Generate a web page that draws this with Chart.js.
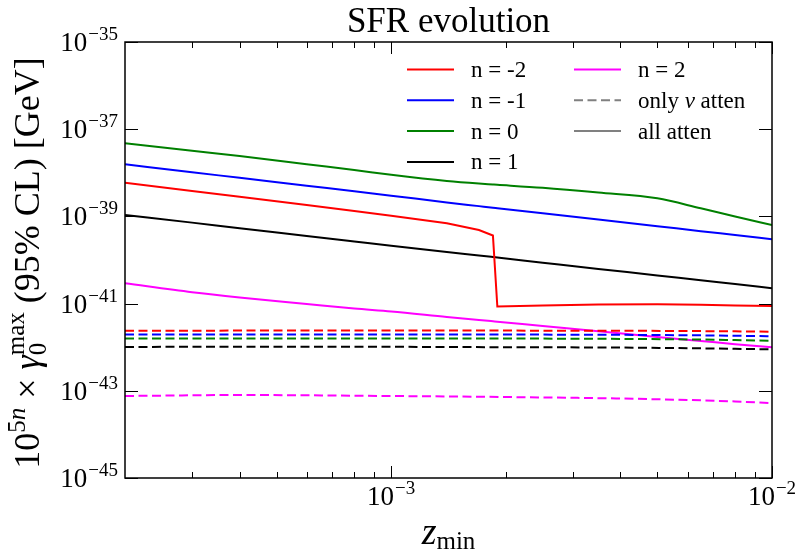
<!DOCTYPE html>
<html>
<head>
<meta charset="utf-8">
<script src="https://cdn.jsdelivr.net/npm/chart.js@4.4.1/dist/chart.umd.min.js"></script>
<style>
  html, body { margin: 0; padding: 0; background: #fff; }
  canvas { display: block; }
</style>
</head>
<body>
<canvas id="chart" width="801" height="552"></canvas>
<script>
// z_min grid for the "all atten" (solid) curves
const zAll = [2e-4, 3e-4, 4e-4, 6e-4, 8e-4, 1e-3, 1.4e-3, 1.7e-3, 1.85e-3, 1.9e-3, 2.5e-3, 3.5e-3, 5e-3, 6.5e-3, 8e-3, 1e-2];
const redAll     = [5.93e-39, 3.83e-39, 2.82e-39, 1.82e-39, 1.33e-39, 1.04e-39, 6.98e-40, 4.88e-40, 3.65e-40, 8.57e-42, 9.0e-42, 9.5e-42, 9.6e-42, 9.4e-42, 9.0e-42, 8.8e-42];
const blueAll    = [1.57e-38, 1.03e-38, 7.68e-39, 5.06e-39, 3.77e-39, 2.99e-39, 2.09e-39, 1.72e-39, 1.58e-39, 1.54e-39, 1.18e-39, 8.49e-40, 5.96e-40, 4.58e-40, 3.74e-40, 3.0e-40];
const greenAll   = [4.75e-38, 3.20e-38, 2.43e-38, 1.57e-38, 1.16e-38, 9.0e-39, 6.48e-39, 5.65e-39, 5.39e-39, 5.31e-39, 4.53e-39, 3.52e-39, 2.60e-39, 1.53e-39, 9.95e-40, 6.35e-40];
const blackAll   = [1.08e-39, 7.2e-40, 5.36e-40, 3.57e-40, 2.67e-40, 2.13e-40, 1.53e-40, 1.27e-40, 1.17e-40, 1.14e-40, 8.7e-41, 6.25e-41, 4.43e-41, 3.42e-41, 2.80e-41, 2.25e-41];
const magentaAll = [2.92e-41, 1.82e-41, 1.38e-41, 9.8e-42, 7.7e-42, 6.6e-42, 4.93e-42, 4.2e-42, 3.93e-42, 3.85e-42, 3.06e-42, 2.32e-42, 1.71e-42, 1.39e-42, 1.17e-42, 9.95e-43];

// z_min grid for the "only nu atten" (dashed) curves
const zNu = [2e-4, 4e-4, 1e-3, 2e-3, 4e-3, 6e-3, 8e-3, 1e-2];
const redNu     = [2.39e-42, 2.40e-42, 2.40e-42, 2.40e-42, 2.38e-42, 2.35e-42, 2.31e-42, 2.27e-42];
const blueNu    = [1.95e-42, 1.96e-42, 1.96e-42, 1.95e-42, 1.92e-42, 1.88e-42, 1.83e-42, 1.78e-42];
const greenNu   = [1.58e-42, 1.59e-42, 1.59e-42, 1.58e-42, 1.55e-42, 1.51e-42, 1.46e-42, 1.41e-42];
const blackNu   = [1.01e-42, 1.03e-42, 1.02e-42, 1.0e-42, 9.8e-43, 9.5e-43, 9.2e-43, 8.9e-43];
const magentaNu = [7.6e-44, 8.0e-44, 7.6e-44, 7.2e-44, 6.65e-44, 6.15e-44, 5.7e-44, 5.2e-44];

const seriesLabels = ['n = -2', 'n = -1', 'n = 0', 'n = 1', 'n = 2'];
const seriesColors = ['#ff0000', '#0000ff', '#008000', '#000000', '#ff00ff'];
const allSeries = [redAll, blueAll, greenAll, blackAll, magentaAll];
const nuSeries = [redNu, blueNu, greenNu, blackNu, magentaNu];

// axis ticks
const yTickExps = [-35, -37, -39, -41, -43, -45];
const xTickExps = [-3, -2];
const xMinorTicks = [3e-4, 4e-4, 5e-4, 6e-4, 7e-4, 8e-4, 9e-4, 2e-3, 3e-3, 4e-3, 5e-3, 6e-3, 7e-3, 8e-3, 9e-3];

const titleText = 'SFR evolution';
const serif = '"Liberation Serif", "Times New Roman", serif';

const toPoints = (xs, ys) => xs.map((x, i) => ({ x: x, y: ys[i] }));

const datasets = [];
allSeries.forEach((vals, i) => {
  datasets.push({
    label: seriesLabels[i] + ' (only nu)',
    data: toPoints(zNu, nuSeries[i]),
    borderColor: seriesColors[i],
    borderWidth: 2,
    borderDash: [9, 4.5],
    pointRadius: 0,
    cubicInterpolationMode: 'monotone',
    fill: false
  });
  datasets.push({
    label: seriesLabels[i],
    data: toPoints(zAll, vals),
    borderColor: seriesColors[i],
    borderWidth: 2,
    pointRadius: 0,
    // the n = -2 curve has a sharp step, keep it straight-segmented
    cubicInterpolationMode: i === 0 ? 'default' : 'monotone',
    tension: 0,
    fill: false
  });
});

function drawPower(ctx, exp, x, baseY, align) {
  const base = '10';
  const sup = '\u2212' + Math.abs(exp);
  ctx.font = '27px ' + serif;
  const wb = ctx.measureText(base).width;
  ctx.font = '19px ' + serif;
  const ws = ctx.measureText(sup).width;
  const total = wb + 1 + ws;
  const sx = align === 'right' ? x - total : x - total / 2;
  ctx.textAlign = 'left';
  ctx.textBaseline = 'alphabetic';
  ctx.font = '27px ' + serif;
  ctx.fillText(base, sx, baseY);
  ctx.font = '19px ' + serif;
  ctx.fillText(sup, sx + wb + 1, baseY - 11);
}

function drawRun(ctx, parts, startX, baseY) {
  let x = startX;
  parts.forEach(p => {
    if (p.stack) {
      let w = 0;
      p.stack.forEach(s => {
        ctx.font = s.f;
        ctx.fillText(s.t, x, baseY + s.dy);
        w = Math.max(w, ctx.measureText(s.t).width);
      });
      x += w;
    } else {
      ctx.font = p.f;
      ctx.fillText(p.t, x, baseY + (p.dy || 0));
      x += ctx.measureText(p.t).width;
    }
  });
}

function runWidth(ctx, parts) {
  let w = 0;
  parts.forEach(p => {
    if (p.stack) {
      let m = 0;
      p.stack.forEach(s => { ctx.font = s.f; m = Math.max(m, ctx.measureText(s.t).width); });
      w += m;
    } else {
      ctx.font = p.f;
      w += ctx.measureText(p.t).width;
    }
  });
  return w;
}

const mplLook = {
  id: 'mplLook',
  afterDraw(chart) {
    const { ctx, chartArea: a, scales: { x, y } } = chart;
    ctx.save();
    ctx.fillStyle = '#000';
    ctx.strokeStyle = '#000';

    // inward ticks on all four sides
    ctx.lineWidth = 1;
    ctx.beginPath();
    yTickExps.forEach(e => {
      const py = Math.round(y.getPixelForValue(Math.pow(10, e))) + 0.5;
      ctx.moveTo(a.left, py); ctx.lineTo(a.left + 13, py);
      ctx.moveTo(a.right, py); ctx.lineTo(a.right - 13, py);
    });
    xTickExps.forEach(e => {
      const px = Math.round(x.getPixelForValue(Math.pow(10, e))) + 0.5;
      ctx.moveTo(px, a.bottom); ctx.lineTo(px, a.bottom - 12);
      ctx.moveTo(px, a.top); ctx.lineTo(px, a.top + 12);
    });
    xMinorTicks.forEach(v => {
      const px = Math.round(x.getPixelForValue(v)) + 0.5;
      ctx.moveTo(px, a.bottom); ctx.lineTo(px, a.bottom - 6);
      ctx.moveTo(px, a.top); ctx.lineTo(px, a.top + 6);
    });
    ctx.stroke();

    // frame
    ctx.lineWidth = 1.5;
    ctx.strokeRect(a.left, a.top, a.right - a.left, a.bottom - a.top);

    // tick labels
    yTickExps.forEach(e => {
      const py = y.getPixelForValue(Math.pow(10, e));
      drawPower(ctx, e, a.left - 7, py + 9, 'right');
    });
    xTickExps.forEach(e => {
      const px = x.getPixelForValue(Math.pow(10, e));
      drawPower(ctx, e, px, a.bottom + 27, 'center');
    });

    // title
    ctx.font = '35px ' + serif;
    ctx.textAlign = 'center';
    ctx.fillText(titleText, (a.left + a.right) / 2, 32);

    // x label: z_min
    ctx.textAlign = 'left';
    const xParts = [
      { t: 'z', f: 'italic 38px ' + serif },
      { t: 'min', f: '25px ' + serif, dy: 5 }
    ];
    const xw = runWidth(ctx, xParts);
    drawRun(ctx, xParts, (a.left + a.right) / 2 - xw / 2, 544);

    // y label
    const big = '36px ' + serif, bigI = 'italic 36px ' + serif;
    const small = '25px ' + serif, smallI = 'italic 25px ' + serif;
    const yParts = [
      { t: '10', f: big },
      { t: '5', f: small, dy: -14 },
      { t: 'n', f: smallI, dy: -14 },
      { t: ' \u00d7 ', f: big },
      { t: '\u03b3', f: bigI },
      { stack: [{ t: 'max', f: small, dy: -15 }, { t: '0', f: small, dy: 7 }] },
      { t: ' (95% CL) [GeV]', f: big }
    ];
    ctx.save();
    ctx.translate(39, (a.top + a.bottom) / 2 + 3);
    ctx.rotate(-Math.PI / 2);
    const yw = runWidth(ctx, yParts);
    drawRun(ctx, yParts, -yw / 2, 0);
    ctx.restore();

    // legend (two columns inside the axes)
    const rowY0 = 69.5, rowDy = 30.8;
    const legFont = '23px ' + serif;
    ctx.lineWidth = 2;
    seriesLabels.forEach((lab, i) => {
      const col = i < 4 ? 0 : 1;
      const row = i < 4 ? i : 0;
      const lx = col === 0 ? 407 : 574;
      const ly = rowY0 + row * rowDy;
      ctx.strokeStyle = seriesColors[i];
      ctx.setLineDash([]);
      ctx.beginPath(); ctx.moveTo(lx, ly); ctx.lineTo(lx + 47, ly); ctx.stroke();
      ctx.font = legFont;
      ctx.fillText(lab, lx + 64, ly + 7.5);
    });
    ctx.strokeStyle = '#808080';
    ctx.setLineDash([9, 4.5]);
    ctx.beginPath(); ctx.moveTo(574, rowY0 + rowDy); ctx.lineTo(621, rowY0 + rowDy); ctx.stroke();
    ctx.setLineDash([]);
    ctx.beginPath(); ctx.moveTo(574, rowY0 + 2 * rowDy); ctx.lineTo(621, rowY0 + 2 * rowDy); ctx.stroke();
    drawRun(ctx, [
      { t: 'only ', f: legFont },
      { t: '\u03bd', f: 'italic 23px ' + serif },
      { t: ' atten', f: legFont }
    ], 638, rowY0 + rowDy + 7.5);
    ctx.font = legFont;
    ctx.fillText('all atten', 638, rowY0 + 2 * rowDy + 7.5);

    ctx.restore();
  }
};

const chart = new Chart(document.getElementById('chart').getContext('2d'), {
  type: 'line',
  data: { datasets: datasets },
  options: {
    responsive: false,
    animation: false,
    devicePixelRatio: 1,
    layout: { padding: { left: 125, right: 29, top: 42, bottom: 74 } },
    plugins: {
      legend: { display: false },
      title: { display: false },
      tooltip: { enabled: false }
    },
    scales: {
      x: { type: 'logarithmic', min: 2e-4, max: 1e-2, display: false },
      y: { type: 'logarithmic', min: 1e-45, max: 1e-35, display: false }
    }
  },
  plugins: [mplLook]
});
</script>
</body>
</html>
